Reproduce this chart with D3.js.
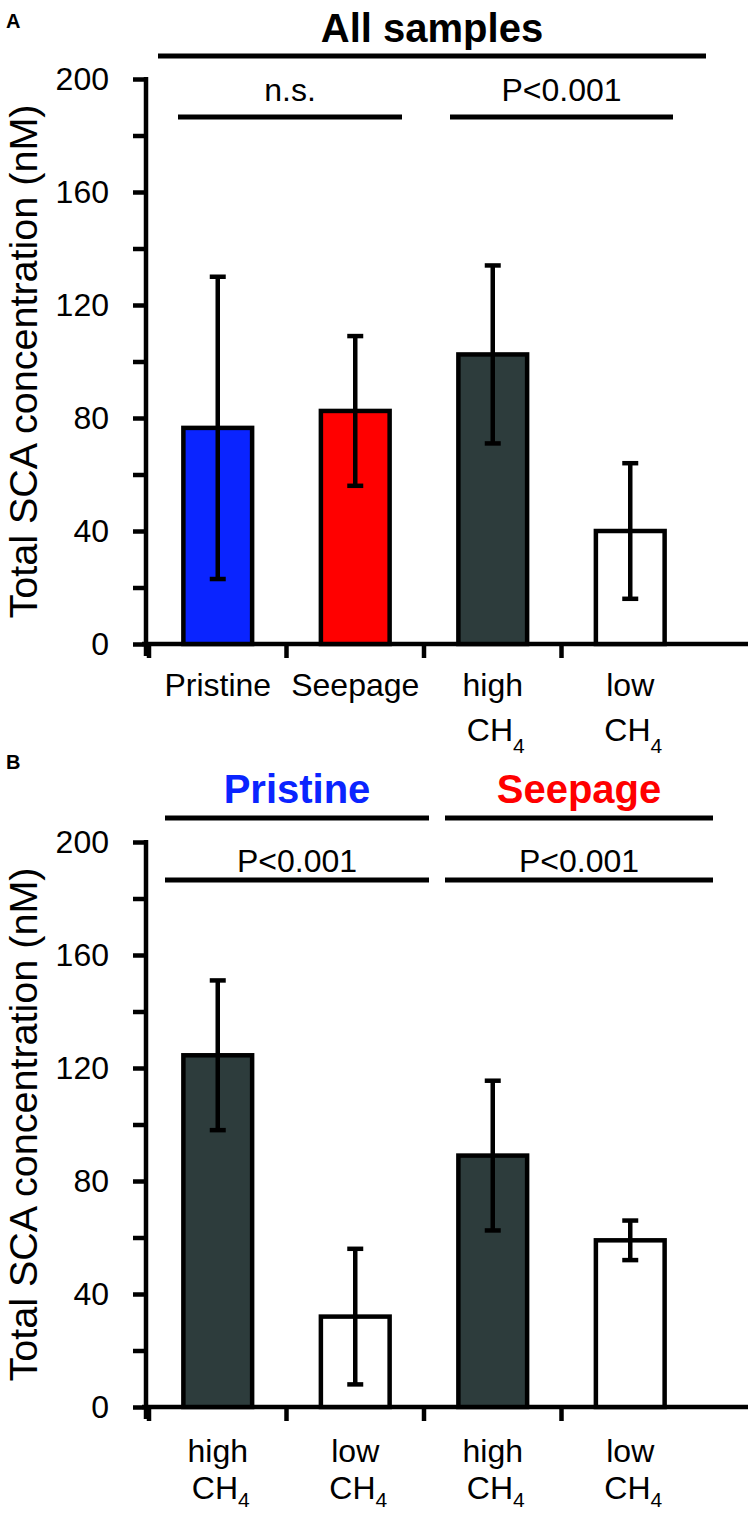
<!DOCTYPE html>
<html><head><meta charset="utf-8">
<script src="https://cdn.jsdelivr.net/npm/d3@7"></script>
<style>
body{margin:0;background:#fff;}
text{font-family:"Liberation Sans",Arial,sans-serif;}
</style></head>
<body>
<svg id="chart" width="752" height="1515"></svg>
<script>
// Panel A data
const catsA = ["Pristine", "Seepage", "high CH4", "low CH4"];
const meansA = [76.5, 82.5, 102.5, 40];
const errsA = [53.5, 26.5, 31.5, 24];
const colorsA = ["#0a24ff", "#ff0000", "#2d3c3c", "#ffffff"];
// Panel B data
const catsB = ["Pristine high CH4", "Pristine low CH4", "Seepage high CH4", "Seepage low CH4"];
const meansB = [124.5, 32, 89, 59];
const errsB = [26.5, 24, 26.5, 7];
const colorsB = ["#2d3c3c", "#ffffff", "#2d3c3c", "#ffffff"];
const labelsA = [["Pristine"], ["Seepage"], ["high", "CH4"], ["low", "CH4"]];
const labelsB = [["high", "CH4"], ["low", "CH4"], ["high", "CH4"], ["low", "CH4"]];
const yTicks = [0, 20, 40, 60, 80, 100, 120, 140, 160, 180, 200];
const yMax = 200;
const yTitle = "Total SCA concentration (nM)";

const svg = d3.select("#chart");
const AX = 146;

function panel(o) {
  const g = svg.append("g");
  const y = d3.scaleLinear().domain([0, yMax]).range([o.y0, o.y0 - 565]);
  const x = d3.scaleBand().domain(o.cats).range([149, 699]).paddingInner(0.5).paddingOuter(0.25);
  const sw = 4.5;

  // panel letter
  g.append("text").attr("x", 6).attr("y", o.letterY).attr("font-weight", "bold")
    .attr("font-size", 20).text(o.letter);

  // y axis
  const ax = d3.axisLeft(y).tickValues(yTicks).tickSize(13).tickSizeOuter(0)
    .tickFormat(d => d % 40 === 0 ? d : "");
  const ag = g.append("g").attr("transform", `translate(${AX},0)`).call(ax);
  ag.select(".domain").attr("stroke", "#000").attr("stroke-width", sw)
    .attr("d", `M0,${y(yMax) - 2}V${y(0) + 12}`);
  ag.selectAll(".tick line").attr("stroke", "#000").attr("stroke-width", sw);
  ag.selectAll(".tick text").attr("font-size", 32).attr("fill", "#000")
    .attr("font-family", "Liberation Sans, Arial, sans-serif").attr("x", -37);

  // x axis line and separator ticks
  g.append("line").attr("x1", AX - 4).attr("x2", 748).attr("y1", y(0)).attr("y2", y(0))
    .attr("stroke", "#000").attr("stroke-width", sw);
  const seps = o.cats.map(c => x(c) - (x.step() - x.bandwidth()) / 2);
  g.selectAll(".sep").data(seps).join("line")
    .attr("x1", d => d).attr("x2", d => d)
    .attr("y1", y(0)).attr("y2", y(0) + 14)
    .attr("stroke", "#000").attr("stroke-width", sw);

  // bars
  g.selectAll(".bar").data(o.cats).join("rect")
    .attr("x", c => x(c)).attr("width", x.bandwidth())
    .attr("y", (c, i) => y(o.means[i])).attr("height", (c, i) => y(0) - y(o.means[i]))
    .attr("fill", (c, i) => o.colors[i]).attr("stroke", "#000").attr("stroke-width", sw);

  // error bars
  o.cats.forEach((c, i) => {
    const cx = x(c) + x.bandwidth() / 2;
    const top = y(o.means[i] + o.errs[i]), bot = y(o.means[i] - o.errs[i]);
    g.append("line").attr("x1", cx).attr("x2", cx).attr("y1", top).attr("y2", bot)
      .attr("stroke", "#000").attr("stroke-width", sw);
    [top, bot].forEach(v => g.append("line").attr("x1", cx - 8).attr("x2", cx + 8)
      .attr("y1", v).attr("y2", v).attr("stroke", "#000").attr("stroke-width", sw));
  });

  // category labels
  o.labels.forEach((lines, i) => {
    const cx = x(o.cats[i]) + x.bandwidth() / 2;
    lines.forEach((ln, j) => {
      const t = g.append("text").attr("x", cx + (ln === "CH4" ? 3 : 0))
        .attr("y", y(0) + (j === 0 ? o.l1 : o.l2))
        .attr("text-anchor", "middle").attr("font-size", 32).attr("fill", "#000");
      if (ln === "CH4") {
        t.append("tspan").text("CH");
        t.append("tspan").attr("font-size", 21).attr("dy", o.sub).text("4");
      } else t.text(ln);
    });
  });

  // y title
  g.append("text").attr("transform", `translate(37,${y(100)}) rotate(-90)`)
    .attr("text-anchor", "middle").attr("font-size", 39).attr("fill", "#000")
    .attr("textLength", 514).attr("lengthAdjust", "spacingAndGlyphs").text(yTitle);

  // headers & significance lines
  o.headers.forEach(h => {
    g.append("line").attr("x1", h.x1).attr("x2", h.x2).attr("y1", h.ly).attr("y2", h.ly)
      .attr("stroke", "#000").attr("stroke-width", 5);
    g.append("text").attr("x", (h.x1 + h.x2) / 2).attr("y", h.ty).attr("text-anchor", "middle")
      .attr("font-size", h.fs).attr("font-weight", h.bold ? "bold" : "normal")
      .attr("fill", h.color).text(h.text);
  });
}

panel({
  letter: "A", letterY: 28, y0: 644, cats: catsA, means: meansA, errs: errsA, colors: colorsA, labels: labelsA,
  l1: 52, l2: 97, sub: 12,
  headers: [
    {x1: 158, x2: 706, ly: 56, ty: 42, text: "All samples", fs: 40, bold: true, color: "#000"},
    {x1: 178, x2: 402, ly: 117, ty: 101, text: "n.s.", fs: 32, bold: false, color: "#000"},
    {x1: 450, x2: 673, ly: 117, ty: 101, text: "P<0.001", fs: 32, bold: false, color: "#000"}
  ]
});
panel({
  letter: "B", letterY: 769, y0: 1407, cats: catsB, means: meansB, errs: errsB, colors: colorsB, labels: labelsB,
  l1: 55, l2: 92, sub: 8,
  headers: [
    {x1: 165, x2: 429, ly: 818, ty: 803, text: "Pristine", fs: 40, bold: true, color: "#0a24ff"},
    {x1: 445, x2: 713, ly: 818, ty: 803, text: "Seepage", fs: 40, bold: true, color: "#ff0000"},
    {x1: 165, x2: 429, ly: 880, ty: 872, text: "P<0.001", fs: 32, bold: false, color: "#000"},
    {x1: 445, x2: 713, ly: 880, ty: 872, text: "P<0.001", fs: 32, bold: false, color: "#000"}
  ]
});
</script>
</body></html>
